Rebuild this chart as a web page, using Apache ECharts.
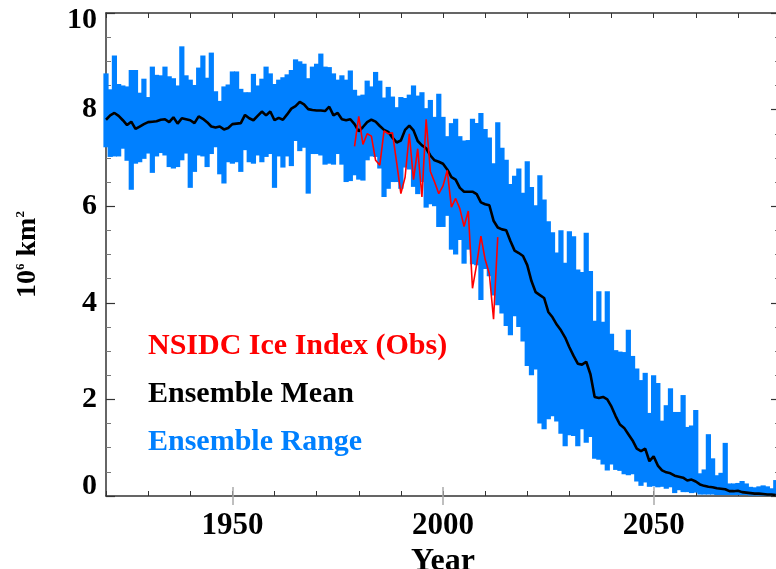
<!DOCTYPE html>
<html>
<head>
<meta charset="utf-8">
<script src="https://cdn.jsdelivr.net/npm/echarts@6/dist/echarts.min.js"></script>
<style>
html,body{margin:0;padding:0;background:#fff;}
#chart{width:776px;height:569px;}
</style>
</head>
<body>
<div id="chart"></div>
<script>
// ---- data ----
const years = [
  1920,1921,1922,1923,1924,1925,1926,1927,1928,1929,
  1930,1931,1932,1933,1934,1935,1936,1937,1938,1939,
  1940,1941,1942,1943,1944,1945,1946,1947,1948,1949,
  1950,1951,1952,1953,1954,1955,1956,1957,1958,1959,
  1960,1961,1962,1963,1964,1965,1966,1967,1968,1969,
  1970,1971,1972,1973,1974,1975,1976,1977,1978,1979,
  1980,1981,1982,1983,1984,1985,1986,1987,1988,1989,
  1990,1991,1992,1993,1994,1995,1996,1997,1998,1999,
  2000,2001,2002,2003,2004,2005,2006,2007,2008,2009,
  2010,2011,2012,2013,2014,2015,2016,2017,2018,2019,
  2020,2021,2022,2023,2024,2025,2026,2027,2028,2029,
  2030,2031,2032,2033,2034,2035,2036,2037,2038,2039,
  2040,2041,2042,2043,2044,2045,2046,2047,2048,2049,
  2050,2051,2052,2053,2054,2055,2056,2057,2058,2059,
  2060,2061,2062,2063,2064,2065,2066,2067,2068,2069,
  2070,2071,2072,2073,2074,2075,2076,2077,2078,2079
];
const rangeHigh = [
  8.75,8.42,9.12,8.53,8.50,8.48,8.82,8.82,8.35,8.64,
  8.26,8.89,8.72,8.71,8.89,8.69,8.65,8.50,9.31,8.71,
  8.62,8.51,8.87,9.12,8.66,9.18,8.38,8.18,8.48,8.52,
  8.79,8.79,8.43,8.36,8.36,8.74,8.50,8.64,8.89,8.75,
  8.53,8.62,8.67,8.73,8.82,9.04,9.00,8.95,8.65,8.89,
  8.95,9.16,8.89,8.88,8.75,8.62,8.71,8.62,8.81,8.41,
  8.29,8.31,8.60,8.48,8.78,8.60,8.25,8.47,8.27,8.05,
  8.26,8.24,8.31,8.50,8.29,8.36,8.03,8.20,7.85,8.33,
  7.85,7.45,7.72,7.81,7.45,7.36,7.37,7.81,7.72,7.93,
  7.60,7.42,6.89,7.74,7.21,6.96,6.46,6.63,6.78,6.28,
  6.93,6.40,6.02,6.64,6.14,5.69,5.46,5.04,5.50,4.83,
  5.48,5.38,4.69,4.64,5.45,4.66,3.63,4.24,3.61,4.24,
  3.36,3.02,2.99,2.98,3.44,2.90,2.64,2.40,2.55,1.72,
  2.50,2.34,1.56,1.88,2.23,1.74,1.74,2.09,1.43,1.46,
  1.78,0.47,0.55,1.28,0.78,0.43,0.48,1.10,0.26,0.26,
  0.27,0.31,0.26,0.19,0.18,0.20,0.22,0.20,0.16,0.33
];
const rangeLow = [
  7.22,7.02,7.03,7.03,7.19,6.94,6.34,6.88,6.91,6.98,
  7.09,6.69,7.03,7.10,7.05,6.81,6.78,6.81,6.95,7.09,
  6.38,6.71,7.05,7.03,6.81,7.08,7.22,6.66,6.47,6.91,
  6.88,6.91,6.71,7.16,6.91,6.88,7.05,6.91,7.02,7.08,
  6.38,7.03,6.80,7.03,6.83,7.35,7.14,7.21,6.26,7.08,
  7.08,7.05,6.86,6.88,6.86,7.08,6.86,6.50,6.52,6.64,
  6.55,6.53,6.95,7.03,7.02,6.78,6.19,6.36,6.50,6.50,
  6.36,6.80,6.76,6.40,6.25,6.50,5.97,6.04,6.00,5.57,
  5.57,5.80,5.10,5.00,5.30,4.81,5.10,4.80,4.78,4.06,
  4.70,4.55,4.15,3.95,3.78,3.52,3.33,3.72,3.50,3.20,
  2.69,2.50,2.62,1.50,1.38,1.59,1.65,1.54,1.29,1.03,
  1.26,1.24,1.03,1.38,1.10,1.22,0.77,0.75,0.65,0.53,
  0.65,0.54,0.52,0.45,0.43,0.45,0.30,0.21,0.28,0.19,
  0.20,0.18,0.19,0.15,0.18,0.06,0.12,0.08,0.08,0.06,
  0.07,0.03,0.03,0.03,0.03,0.02,0.02,0.02,0.02,0.02,
  0.02,0.02,0.02,0.01,0.01,0.01,0.01,0.01,0.01,0.01
];
const ensembleMean = [
  7.79,7.88,7.93,7.87,7.78,7.68,7.75,7.60,7.65,7.70,
  7.74,7.75,7.76,7.79,7.80,7.74,7.84,7.71,7.82,7.80,
  7.78,7.72,7.86,7.81,7.74,7.65,7.63,7.65,7.59,7.62,
  7.70,7.71,7.72,7.89,7.82,7.78,7.87,7.96,7.88,7.96,
  7.78,7.83,7.79,7.90,8.02,8.07,8.16,8.11,8.01,7.99,
  7.98,7.98,7.97,8.06,7.88,7.93,7.80,7.78,7.80,7.70,
  7.55,7.64,7.74,7.79,7.75,7.66,7.58,7.54,7.42,7.32,
  7.36,7.58,7.67,7.57,7.35,7.26,7.20,7.05,6.95,6.92,
  6.88,6.76,6.60,6.55,6.38,6.30,6.30,6.30,6.25,6.08,
  6.04,6.02,5.70,5.56,5.52,5.50,5.28,5.08,5.03,4.97,
  4.78,4.45,4.22,4.16,4.10,3.81,3.70,3.55,3.43,3.28,
  3.08,2.90,2.74,2.72,2.78,2.52,2.05,2.03,2.05,2.00,
  1.85,1.65,1.48,1.41,1.28,1.15,0.98,0.93,0.98,0.72,
  0.82,0.63,0.53,0.49,0.47,0.42,0.40,0.38,0.32,0.34,
  0.30,0.24,0.21,0.19,0.18,0.16,0.15,0.14,0.10,0.10,
  0.11,0.08,0.07,0.06,0.05,0.05,0.04,0.03,0.03,0.02
];
const obsYears = [
  1979,1980,1981,1982,1983,1984,1985,1986,1987,1988,
  1989,1990,1991,1992,1993,1994,1995,1996,1997,1998,
  1999,2000,2001,2002,2003,2004,2005,2006,2007,2008,
  2009,2010,2011,2012,2013
];
const obsNSIDC = [
  7.24,7.86,7.28,7.50,7.45,6.95,6.85,7.56,7.50,7.52,
  6.90,6.26,6.60,7.50,6.55,7.19,6.19,7.80,6.72,6.50,
  6.26,6.42,6.74,5.98,6.16,5.95,5.58,5.90,4.30,4.80,
  5.38,4.90,4.60,3.66,5.36
];
const xMajorLabels = [1950, 2000, 2050];
const yTickLabels = [0, 2, 4, 6, 8, 10];
const seriesNames = ['NSIDC Ice Index (Obs)', 'Ensemble Mean', 'Ensemble Range'];

// ---- build ----
const FONT = '"Liberation Serif", "Times New Roman", serif';
const BLUE = '#0080ff';
const rangeData = years.map((y, i) => [y, rangeLow[i], rangeHigh[i]]);
const meanData = years.map((y, i) => [y, ensembleMean[i]]);
const obsData = obsYears.map((y, i) => [y, obsNSIDC[i]]);

const axisLineStyle = { color: '#333', width: 1.5 };
const chart = echarts.init(document.getElementById('chart'), null, { renderer: 'canvas' });

function xAxisBase(pos, opts) {
  return Object.assign({
    type: 'value', position: pos, min: 1920, max: 2080, interval: 10,
    axisLine: { show: true, onZero: false, lineStyle: axisLineStyle },
    splitLine: { show: false },
    axisLabel: { show: false },
    axisTick: { show: true, inside: true, length: 5, lineStyle: { color: '#333', width: 1 } }
  }, opts || {});
}
function yAxisBase(pos, opts) {
  return Object.assign({
    type: 'value', position: pos, min: 0, max: 10, interval: 2,
    axisLine: { show: true, onZero: false, lineStyle: axisLineStyle },
    splitLine: { show: false },
    axisLabel: { show: false },
    axisTick: { show: true, inside: true, length: 9, lineStyle: { color: '#333', width: 1.2 } },
    minorTick: { show: true, splitNumber: 4, length: 5, lineStyle: { color: '#777', width: 1 } }
  }, opts || {});
}

const option = {
  backgroundColor: '#fff',
  animation: false,
  grid: { left: 106, right: -4, top: 13, bottom: 73, containLabel: false, outerBoundsMode: 'none' },
  legend: {
    orient: 'vertical', left: 138, top: 326, itemGap: 18,
    itemWidth: 0, itemHeight: 0, selectedMode: false,
    textStyle: { fontFamily: FONT, fontWeight: 'bold', fontSize: 30 },
    data: [
      { name: seriesNames[0], icon: 'none', textStyle: { color: '#ff0000' } },
      { name: seriesNames[1], icon: 'none', textStyle: { color: '#000000' } },
      { name: seriesNames[2], icon: 'none', textStyle: { color: BLUE } }
    ]
  },
  xAxis: [
    xAxisBase('bottom', {
      name: 'Year', nameLocation: 'middle', nameGap: 38,
      nameTextStyle: { fontFamily: FONT, fontWeight: 'bold', fontSize: 32, color: '#000' },
      axisLabel: { show: true, customValues: xMajorLabels, margin: 14,
        formatter: function (v) { return String(v); },
        fontFamily: FONT, fontWeight: 'bold', fontSize: 31, color: '#000' }
    }),
    xAxisBase('bottom', {
      axisLine: { show: false },
      axisTick: { show: true, inside: true, length: 9, customValues: xMajorLabels,
        lineStyle: { color: '#aaa', width: 1.5 } }
    }),
    xAxisBase('top'),
    xAxisBase('top', {
      axisLine: { show: false },
      axisTick: { show: true, inside: true, length: 9, customValues: xMajorLabels,
        lineStyle: { color: '#aaa', width: 1.5 } }
    })
  ],
  yAxis: [
    yAxisBase('left', {
      name: '{a|10}{s|6}{a| km}{s|2}', nameLocation: 'middle', nameGap: 64, nameRotate: 90,
      nameTextStyle: {
        fontFamily: FONT, fontWeight: 'bold', color: '#000',
        rich: {
          a: { fontFamily: FONT, fontWeight: 'bold', fontSize: 28, color: '#000' },
          s: { fontFamily: FONT, fontWeight: 'bold', fontSize: 13, color: '#000', verticalAlign: 'top', padding: [0, 0, 12, 0] }
        }
      },
      axisLabel: {
        show: true, margin: 9, fontFamily: FONT, fontWeight: 'bold', fontSize: 30, color: '#000',
        formatter: function (v) {
          if (v === yTickLabels[yTickLabels.length - 1]) return '{top|' + v + '}';
          if (v === yTickLabels[0]) return '{bot|' + v + '}';
          return String(v);
        },
        rich: {
          top: { fontFamily: FONT, fontWeight: 'bold', fontSize: 30, color: '#000', padding: [14, 0, 0, 0] },
          bot: { fontFamily: FONT, fontWeight: 'bold', fontSize: 30, color: '#000', padding: [0, 0, 19, 0] }
        }
      }
    }),
    yAxisBase('right')
  ],
  series: [
    {
      name: seriesNames[2], type: 'custom', xAxisIndex: 0, yAxisIndex: 0, z: 2, clip: false,
      data: rangeData,
      encode: { x: 0, y: [1, 2] },
      renderItem: function (params, api) {
        const x = api.value(0);
        const top = api.coord([x, api.value(2)]);
        const bot = api.coord([x, api.value(1)]);
        const w = api.size([1, 0])[0];
        return {
          type: 'rect',
          shape: { x: top[0] - w / 2 - 0.5, y: top[1], width: w + 1, height: bot[1] - top[1] },
          style: { fill: BLUE, stroke: null, lineWidth: 0 }
        };
      }
    },
    {
      name: seriesNames[1], type: 'line', xAxisIndex: 0, yAxisIndex: 0, z: 3,
      data: meanData, showSymbol: false, symbol: 'none',
      lineStyle: { color: '#000', width: 2.6 }, itemStyle: { color: '#000' }
    },
    {
      name: seriesNames[0], type: 'line', xAxisIndex: 0, yAxisIndex: 0, z: 4,
      data: obsData, showSymbol: false, symbol: 'none',
      lineStyle: { color: '#ff0000', width: 1.6 }, itemStyle: { color: '#ff0000' }
    }
  ]
};
chart.setOption(option);
</script>
</body>
</html>
